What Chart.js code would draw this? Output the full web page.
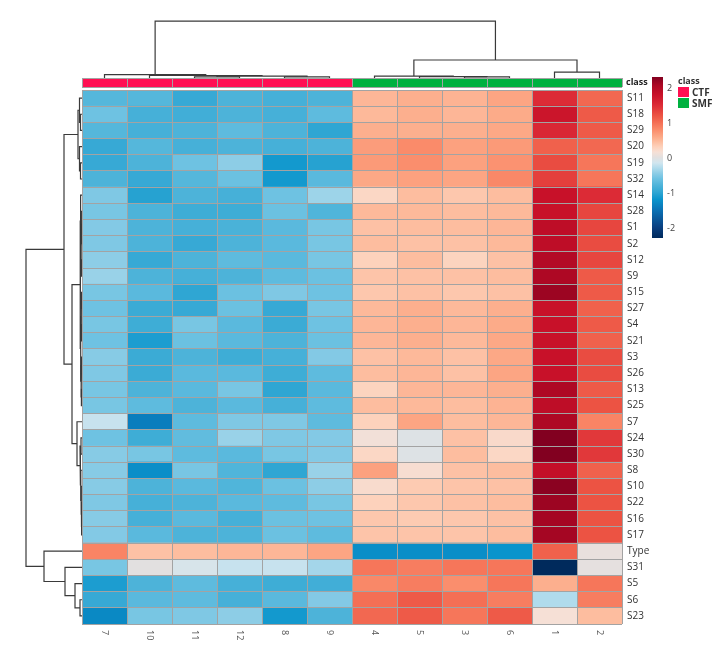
<!DOCTYPE html>
<html lang="en">
<head>
<meta charset="UTF-8">
<title>Heatmap</title>
<script src="https://cdn.jsdelivr.net/npm/chart.js"></script>
<style>
  body { margin: 0; background: #fff; font-family: "Open Sans", sans-serif; }
  #wrap { position: relative; width: 721px; height: 650px; overflow: hidden; }
  #wrap canvas { position: absolute; }
  #colorbar { position: absolute; left: 652px; top: 77px; width: 11px; height: 161px; }
  .cb-tick { position: absolute; left: 667px; font-size: 9px; color: #444; line-height: 12px; }
  .lg-title { position: absolute; left: 678px; top: 74px; font-size: 9px; font-weight: bold; color: #333; }
  .lg-box { position: absolute; left: 678px; width: 11px; height: 10px; }
  .lg-text { position: absolute; left: 692px; font-size: 10px; font-weight: bold; color: #333; line-height: 10px; }
</style>
</head>
<body>
<div id="wrap">
  <canvas id="colDend" width="540" height="67" style="left:82px; top:11px;"></canvas>
  <canvas id="classBar" width="591" height="11" style="left:81px; top:77px;"></canvas>
  <canvas id="rowDend" width="82" height="534" style="left:0px; top:90px;"></canvas>
  <canvas id="heat" width="591" height="561" style="left:81px; top:89px;"></canvas>
  <div id="colorbar"></div>
  <div id="legend"></div>
</div>
<script>
// rows (top to bottom) and columns (left to right) as clustered
const rowLabels = ['S11', 'S18', 'S29', 'S20', 'S19', 'S32', 'S14', 'S28', 'S1', 'S2', 'S12', 'S9',
    'S15', 'S27', 'S4', 'S21', 'S3', 'S26', 'S13', 'S25', 'S7', 'S24', 'S30', 'S8', 'S10', 'S22',
    'S16', 'S17', 'Type', 'S31', 'S5', 'S6', 'S23'];
const colLabels = ['7', '10', '11', '12', '8', '9', '4', '5', '3', '6', '1', '2'];
const colClass = ['CTF', 'CTF', 'CTF', 'CTF', 'CTF', 'CTF', 'SMF', 'SMF', 'SMF', 'SMF', 'SMF', 'SMF'];

// scaled values per sample column, in row order
const s7 = [-0.75, -0.6, -0.75, -0.95, -0.95, -0.8, -0.52, -0.55, -0.5, -0.52, -0.45, -0.4, -0.55, -0.6, -0.55, -0.6, -0.48, -0.52, -0.55, -0.55, -0.2, -0.6, -0.48, -0.48, -0.48, -0.52, -0.48, -0.5, 0.85, -0.55, -1.1, -0.95, -1.3];
const s10 = [-0.75, -0.85, -0.85, -0.75, -0.8, -0.95, -1.05, -0.8, -0.8, -0.8, -0.95, -0.8, -0.72, -0.92, -0.9, -1.1, -0.92, -0.92, -0.8, -0.7, -1.4, -0.9, -0.55, -1.25, -0.8, -0.85, -0.85, -0.72, 0.42, 0.0, -0.8, -0.72, -0.55];
const s11 = [-0.95, -0.88, -0.8, -0.85, -0.6, -0.75, -0.8, -0.9, -0.85, -0.95, -0.8, -0.85, -1.0, -0.95, -0.55, -0.62, -0.8, -0.72, -0.72, -0.8, -0.7, -0.68, -0.7, -0.55, -0.72, -0.8, -0.72, -0.8, 0.45, -0.1, -0.7, -0.7, -0.52];
const s12 = [-0.8, -0.8, -0.7, -0.8, -0.45, -0.62, -0.85, -0.9, -0.82, -0.8, -0.7, -0.8, -0.62, -0.62, -0.72, -0.72, -0.9, -0.72, -0.55, -0.72, -0.52, -0.4, -0.72, -0.78, -0.78, -0.72, -0.85, -0.8, 0.5, -0.2, -0.85, -0.85, -0.45];
const s8 = [-0.85, -0.85, -0.8, -0.85, -1.15, -1.15, -0.6, -0.62, -0.72, -0.72, -0.72, -0.7, -0.52, -0.95, -0.92, -0.8, -0.85, -0.9, -1.0, -0.85, -0.52, -0.52, -0.55, -1.0, -0.62, -0.7, -0.62, -0.62, 0.5, -0.2, -0.9, -0.72, -1.15];
const s9 = [-0.8, -0.7, -1.0, -0.8, -1.05, -0.72, -0.38, -0.78, -0.55, -0.55, -0.55, -0.62, -0.6, -0.55, -0.6, -0.62, -0.5, -0.7, -0.72, -0.7, -0.7, -0.5, -0.5, -0.4, -0.45, -0.55, -0.6, -0.7, 0.62, -0.35, -0.88, -0.5, -0.8];
const s4 = [0.5, 0.48, 0.55, 0.68, 0.7, 0.6, 0.25, 0.48, 0.42, 0.45, 0.3, 0.4, 0.38, 0.48, 0.5, 0.5, 0.42, 0.45, 0.28, 0.45, 0.3, 0.12, 0.25, 0.65, 0.2, 0.3, 0.38, 0.4, -1.25, 0.95, 0.82, 1.0, 1.05];
const s5 = [0.55, 0.55, 0.55, 0.8, 0.78, 0.65, 0.45, 0.48, 0.45, 0.42, 0.45, 0.42, 0.42, 0.55, 0.55, 0.55, 0.48, 0.5, 0.5, 0.48, 0.62, -0.05, -0.05, 0.18, 0.35, 0.38, 0.35, 0.4, -1.25, 0.9, 0.9, 1.15, 1.15];
const s3 = [0.52, 0.5, 0.55, 0.65, 0.65, 0.62, 0.38, 0.45, 0.45, 0.42, 0.28, 0.42, 0.38, 0.48, 0.5, 0.48, 0.42, 0.42, 0.5, 0.45, 0.45, 0.42, 0.45, 0.42, 0.4, 0.42, 0.38, 0.4, -1.25, 0.95, 0.78, 1.0, 0.95];
const s6 = [0.62, 0.58, 0.6, 0.7, 0.75, 0.82, 0.45, 0.48, 0.5, 0.48, 0.42, 0.45, 0.42, 0.55, 0.58, 0.6, 0.6, 0.62, 0.55, 0.52, 0.5, 0.22, 0.25, 0.45, 0.42, 0.45, 0.42, 0.45, -1.2, 0.95, 0.95, 0.9, 1.15];
const s1 = [1.5, 1.75, 1.55, 1.1, 1.25, 1.35, 1.8, 1.8, 1.9, 1.9, 2.0, 2.05, 2.15, 1.8, 1.8, 1.8, 1.8, 1.8, 2.05, 1.9, 2.05, 2.3, 2.3, 1.85, 2.25, 2.15, 2.1, 2.1, 1.1, -2.3, 0.55, -0.3, 0.15];
const s2 = [1.05, 1.15, 1.15, 1.05, 0.95, 0.95, 1.5, 1.3, 1.3, 1.25, 1.3, 1.15, 1.15, 1.1, 1.15, 1.1, 1.25, 1.25, 1.15, 1.2, 0.85, 1.4, 1.4, 1.1, 1.2, 1.2, 1.2, 1.2, 0.05, 0.02, 0.95, 0.9, 0.45];
const columns = [s7, s10, s11, s12, s8, s9, s4, s5, s3, s6, s1, s2];

// dendrograms: [left, right, height]; numbers are leaves, 'mN' is merge N
const colMerges = [
    [4, 5, 0.2], [2, 3, 0.2], ['m1', 'm0', 0.35], [1, 'm2', 0.45], [0, 'm3', 0.6],
    [8, 9, 0.2], [7, 'm5', 0.25], [6, 'm6', 0.35], [10, 11, 1.07], ['m7', 'm8', 3.22],
    ['m4', 'm9', 10.2]
];
const rowMerges = [
    [1, 2, 0.15], [0, 'm0', 0.25], [4, 5, 0.15], [3, 'm2', 0.25], ['m1', 'm3', 0.4],
    [8, 9, 0.05], [7, 'm5', 0.08], [10, 11, 0.06], ['m6', 'm7', 0.1], [6, 'm8', 0.14],
    [12, 13, 0.06], [14, 15, 0.05], ['m10', 'm11', 0.09], [16, 17, 0.05], [18, 19, 0.06],
    ['m13', 'm14', 0.1], ['m12', 'm15', 0.13], ['m9', 'm16', 0.2],
    [21, 22, 0.1], [26, 27, 0.04], [25, 'm19', 0.06], [24, 'm20', 0.08], [23, 'm21', 0.12],
    ['m18', 'm22', 0.2], [20, 'm23', 0.5],
    ['m17', 'm24', 1.0], ['m4', 'm25', 1.8],
    [31, 32, 0.2], [30, 'm27', 0.7], [29, 'm28', 1.7], [28, 'm29', 3.8],
    ['m26', 'm30', 5.6]
];

// colour scale
const paletteValues = [-2.3, -2.0, -1.5, -1.2, -1.0, -0.8, -0.6, -0.45, -0.3, -0.15, 0, 0.15, 0.3, 0.45, 0.6, 0.8, 1.0, 1.2, 1.5, 1.8, 2.05, 2.3];
const paletteColors = ['#002a5c', '#0a3f80', '#0a72b5', '#0a94cc', '#2fa6d3', '#4db3d9', '#6ec2e2', '#8dcde6', '#b0dbec', '#d2e6ef',
    '#e2e0e0', '#f6e0d6', '#fdd2bc', '#fdbd9f', '#fca886', '#fa8b6a', '#f46f55', '#ec5343', '#dc2b36', '#c81129', '#ae0824', '#820020'];
const classColors = { CTF: '#ff1052', SMF: '#00b140' };
const cbTicks = [2, 1, 0, -1, -2];

function hexRgb(h) {
    return [1, 3, 5].map(i => parseInt(h.slice(i, i + 2), 16));
}
function valueColor(v) {
    const n = paletteValues.length;
    if (v <= paletteValues[0]) return paletteColors[0];
    if (v >= paletteValues[n - 1]) return paletteColors[n - 1];
    let i = 0;
    while (paletteValues[i + 1] < v) i++;
    const t = (v - paletteValues[i]) / (paletteValues[i + 1] - paletteValues[i]);
    const a = hexRgb(paletteColors[i]), b = hexRgb(paletteColors[i + 1]);
    const c = a.map((x, k) => Math.round(x + (b[k] - x) * t));
    return `rgb(${c[0]},${c[1]},${c[2]})`;
}

// turn a merge list into line datasets (one bracket per merge)
function dendroDatasets(merges, horizontal) {
    const nodes = [];
    const get = k => typeof k === 'number' ? { p: k, h: 0 } : nodes[+k.slice(1)];
    const sets = [];
    merges.forEach(([a, b, h]) => {
        const A = get(a), B = get(b);
        nodes.push({ p: (A.p + B.p) / 2, h: h });
        const pts = [[A.p, A.h], [A.p, h], [B.p, h], [B.p, B.h]];
        sets.push({
            data: pts.map(([p, q]) => horizontal ? { x: q, y: p } : { x: p, y: q }),
            showLine: true, borderColor: '#3a3a3a', borderWidth: 1.2,
            pointRadius: 0, fill: false, tension: 0, clip: false
        });
    });
    return sets;
}

const base = {
    responsive: false, animation: false, events: [],
    plugins: { legend: { display: false }, tooltip: { enabled: false } }
};
const gridGrey = '#a3a3a3';
// keep the category axis from reserving half a label above and below
const fixRightAxis = s => { s.width = 50; s.paddingTop = 0; s.paddingBottom = 0; };

// column dendrogram
new Chart(document.getElementById('colDend'), {
    type: 'scatter',
    data: { datasets: dendroDatasets(colMerges, false) },
    options: {
        ...base,
        layout: { padding: 0 },
        scales: {
            x: { type: 'linear', display: false, min: -0.5, max: 11.5 },
            y: { type: 'linear', display: false, min: 0, max: 12 }
        }
    }
});

// row dendrogram
new Chart(document.getElementById('rowDend'), {
    type: 'scatter',
    data: { datasets: dendroDatasets(rowMerges, true) },
    options: {
        ...base,
        layout: { padding: 0 },
        scales: {
            x: { type: 'linear', display: false, min: 0, max: 8.2, reverse: true },
            y: { type: 'linear', display: false, min: -0.5, max: 32.5, reverse: true }
        }
    }
});

// class annotation bar
new Chart(document.getElementById('classBar'), {
    type: 'bar',
    data: {
        labels: ['class'],
        datasets: colClass.map(c => ({
            data: [1], backgroundColor: classColors[c], borderWidth: 0,
            barPercentage: 1, categoryPercentage: 1
        }))
    },
    options: {
        ...base,
        indexAxis: 'y',
        layout: { padding: { left: 1, top: 1, bottom: 1, right: 0 } },
        scales: {
            x: {
                type: 'linear', stacked: true, min: 0, max: 12,
                ticks: { display: false, stepSize: 1 },
                grid: { color: gridGrey, drawTicks: false, z: 1 },
                border: { display: false },
                afterFit: s => { s.height = 0; }
            },
            y: {
                position: 'right', stacked: true,
                ticks: { color: '#222', padding: 4, font: { family: 'Open Sans', size: 9, weight: 'bold' } },
                grid: { color: gridGrey, drawTicks: false, offset: true, z: 1 },
                border: { display: false },
                afterFit: fixRightAxis
            }
        }
    }
});

// column labels, rotated to read downwards
const colLabelPlugin = {
    id: 'colLabels',
    afterDraw(chart) {
        const { ctx, chartArea, scales } = chart;
        ctx.save();
        ctx.fillStyle = '#555';
        ctx.font = '9px "Open Sans"';
        ctx.textAlign = 'left';
        ctx.textBaseline = 'middle';
        colLabels.forEach((lab, i) => {
            ctx.save();
            ctx.translate(scales.x.getPixelForValue(i + 0.5), chartArea.bottom + 6);
            ctx.rotate(Math.PI / 2);
            ctx.fillText(lab, 0, 0);
            ctx.restore();
        });
        ctx.restore();
    }
};

// heatmap: each sample column is one stacked bar segment per row
new Chart(document.getElementById('heat'), {
    type: 'bar',
    data: {
        labels: rowLabels,
        datasets: columns.map((vals, j) => ({
            label: colLabels[j],
            data: vals.map(() => 1),
            backgroundColor: vals.map(valueColor),
            borderWidth: 0, barPercentage: 1, categoryPercentage: 1
        }))
    },
    options: {
        ...base,
        indexAxis: 'y',
        layout: { padding: { left: 1, top: 1, right: 0, bottom: 0 } },
        scales: {
            x: {
                type: 'linear', stacked: true, min: 0, max: 12,
                ticks: { display: false, stepSize: 1 },
                grid: { color: gridGrey, drawTicks: false, z: 1 },
                border: { display: false },
                afterFit: s => { s.height = 26; }
            },
            y: {
                position: 'right', stacked: true,
                ticks: { color: '#333', padding: 5, autoSkip: false, font: { family: 'Open Sans', size: 10 } },
                grid: { color: gridGrey, drawTicks: false, offset: true, z: 1 },
                border: { display: false },
                afterFit: fixRightAxis
            }
        }
    },
    plugins: [colLabelPlugin]
});

// colour key, high values at the top
const vmin = paletteValues[0], vmax = paletteValues[paletteValues.length - 1];
const stops = paletteValues.map((v, i) => `${paletteColors[i]} ${((vmax - v) / (vmax - vmin) * 100).toFixed(1)}%`).reverse();
document.getElementById('colorbar').style.background = `linear-gradient(to bottom, ${stops.join(', ')})`;
const wrap = document.getElementById('wrap');
cbTicks.forEach(v => {
    const d = document.createElement('div');
    d.className = 'cb-tick';
    d.textContent = String(v);
    d.style.top = (77 + (vmax - v) / (vmax - vmin) * 161 - 6) + 'px';
    wrap.appendChild(d);
});

// class legend
const lg = document.getElementById('legend');
lg.innerHTML = '<div class="lg-title">class</div>';
Object.keys(classColors).forEach((k, i) => {
    lg.innerHTML += `<div class="lg-box" style="top:${87 + i * 10.5}px; background:${classColors[k]}"></div>` +
        `<div class="lg-text" style="top:${87 + i * 10.5}px">${k}</div>`;
});
</script>
</body>
</html>
